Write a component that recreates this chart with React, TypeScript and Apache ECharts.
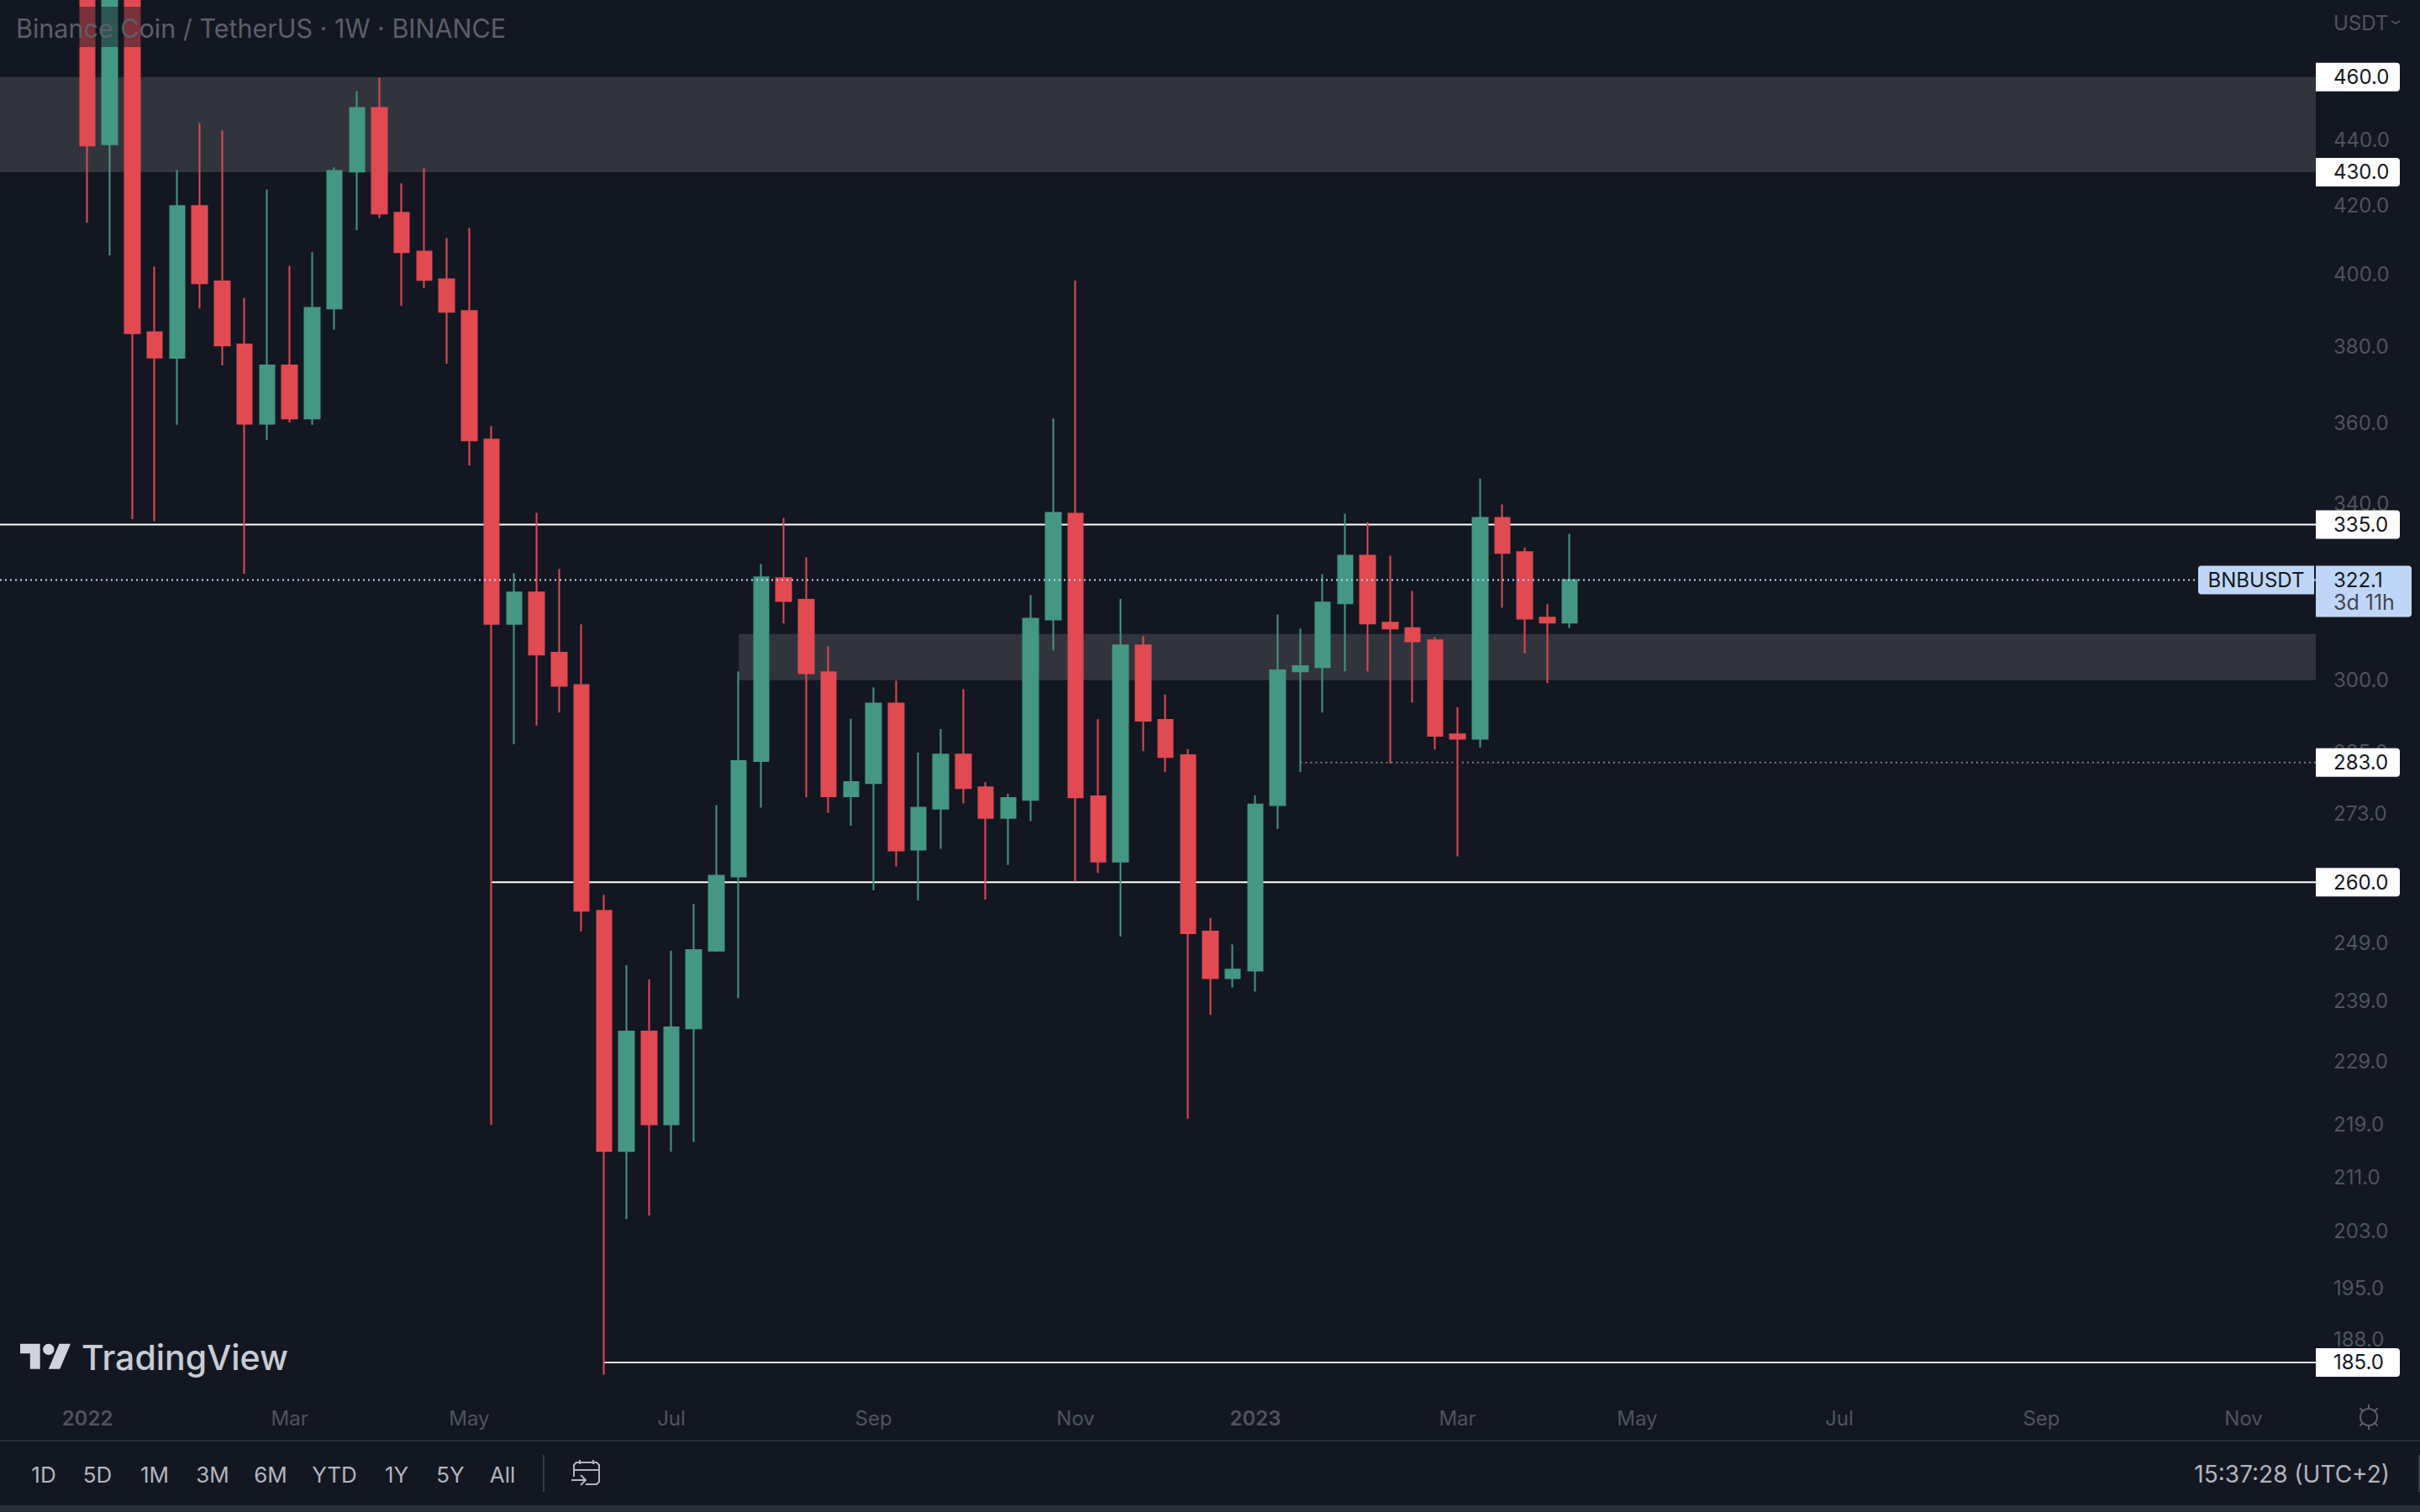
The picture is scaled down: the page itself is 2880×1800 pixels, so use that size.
import { useEffect, useRef } from 'react'
import * as echarts from 'echarts'

const DAY = 86400000
const WEEK = 7 * DAY
const firstWeek = Date.UTC(2022, 0, 3)

// weekly candles, 3 Jan 2022 .. 10 Apr 2023
const opens = [530, 438.6, 490, 383.9, 377.0, 419.8, 398.0, 380.6, 359.8, 375.0, 361.1, 390.4, 430.2, 450.0, 417.8, 406.5, 398.6, 389.7, 355.8, 312.2, 319.25, 305.9, 299.0, 254.8, 214.9, 233.9, 219.0, 234.4, 247.7, 261.05, 283.3, 322.5, 317.6, 301.7, 276.3, 278.9, 295.1, 266.05, 273.9, 284.6, 278.1, 272.1, 275.6, 313.2, 337.6, 276.3, 263.8, 307.5, 291.7, 284.5, 251.05, 242.9, 244.2, 274.6, 301.9, 302.8, 316.8, 327.7, 312.5, 311.3, 308.6, 288.7, 287.8, 336.6, 328.5, 313.6, 312.5]
const closes = [438.2, 490, 383.6, 377.05, 419.8, 397.45, 380.3, 359.8, 375.0, 361.1, 390.6, 430.4, 450.0, 417.6, 406.3, 398.4, 389.5, 355.6, 312.2, 319.25, 305.5, 298.8, 254.8, 214.9, 233.9, 219.0, 234.6, 247.8, 261.2, 283.3, 322.7, 317.3, 301.5, 276.3, 279.1, 295.1, 265.9, 274.1, 284.6, 277.9, 272.1, 276.0, 313.4, 337.8, 276.1, 263.8, 307.5, 291.5, 284.1, 250.75, 242.9, 244.4, 274.7, 302.1, 303.0, 317.0, 327.7, 312.3, 311.2, 308.4, 288.4, 287.8, 336.6, 328.3, 313.4, 312.5, 322.1]
const lows = [414.9, 405.4, 336.3, 335.8, 359.5, 390.4, 375.0, 323.5, 355.65, 360.1, 359.5, 384.6, 412.7, 416.2, 391.1, 396.1, 375.4, 349.3, 218.9, 286.7, 290.5, 293.2, 251.1, 183.4, 204.8, 205.3, 214.8, 216.3, 247.5, 239.5, 274.1, 312.3, 276.1, 273.1, 270.6, 258.5, 262.9, 256.65, 266.2, 274.9, 256.8, 263.2, 271.5, 306.4, 260.1, 261.7, 250.15, 285.3, 281.1, 219.9, 236.7, 241.3, 240.6, 270.0, 281.1, 293.2, 301.9, 301.9, 282.8, 295.3, 285.65, 264.8, 286.0, 315.8, 305.8, 299.4, 311.3]
const highs = [560, 510, 500, 402.2, 430.7, 445.2, 442.9, 393.4, 424.8, 402.4, 406.3, 431.5, 455.4, 459.8, 426.6, 431.2, 410.4, 413.4, 359.2, 323.6, 337.8, 324.65, 312.1, 257.7, 245.15, 242.7, 247.7, 256.05, 274.6, 301.9, 325.8, 336.6, 327.3, 307.3, 291.9, 298.5, 299.9, 285.0, 289.8, 298.1, 279.1, 276.8, 318.7, 361.1, 398.2, 291.8, 317.8, 309.5, 297.0, 285.7, 253.5, 248.8, 276.5, 314.3, 311.2, 323.4, 337.6, 335.6, 327.7, 319.6, 309.3, 294.3, 346.1, 339.8, 329.6, 316.6, 332.8]

const priceTicks = [440, 420, 400, 380, 360, 340, 300, 285, 273, 249, 239, 229, 219, 211, 203, 195, 188]
const tagLevels = [460, 430, 335, 283, 260, 185]
const lastPrice = 322.1

const timeTicks: [number, string][] = [
  [Date.UTC(2022, 0, 3), '2022'],
  [Date.UTC(2022, 2, 7), 'Mar'],
  [Date.UTC(2022, 4, 2), 'May'],
  [Date.UTC(2022, 6, 4), 'Jul'],
  [Date.UTC(2022, 8, 5), 'Sep'],
  [Date.UTC(2022, 10, 7), 'Nov'],
  [Date.UTC(2023, 0, 2), '2023'],
  [Date.UTC(2023, 2, 6), 'Mar'],
  [Date.UTC(2023, 4, 1), 'May'],
  [Date.UTC(2023, 6, 3), 'Jul'],
  [Date.UTC(2023, 8, 4), 'Sep'],
  [Date.UTC(2023, 10, 6), 'Nov'],
]

const rangeButtons: [string, number][] = [
  ['1D', 52], ['5D', 116], ['1M', 184], ['3M', 253], ['6M', 322],
  ['YTD', 398], ['1Y', 472], ['5Y', 536], ['All', 598],
]

const BG = '#131722'
const RED = '#E14A51'
const GREEN = '#449783'
const MUTED = '#50535C'
const SOFT = '#B2B5BE'
const FONT = 'Inter, "Noto Sans", sans-serif'

const PLOT_W = 2756
const PLOT_H = 1660
const WEEK_PX = 26.73
const FIRST_X = 104
const tMin = firstWeek - (FIRST_X / WEEK_PX) * WEEK
const tMax = firstWeek + ((PLOT_W - FIRST_X) / WEEK_PX) * WEEK

const weekAt = (i: number) => firstWeek + i * WEEK

function tagItem(params: any, api: any) {
  const price = api.value(1) as number
  const y = api.coord([tMin, price])[1]
  return {
    type: 'group',
    children: [
      { type: 'rect', shape: { x: PLOT_W, y: y - 17, width: 100, height: 34, r: [0, 4, 4, 0] }, style: { fill: '#FFFFFF' } },
      {
        type: 'text',
        x: 2777,
        y,
        style: { text: price.toFixed(1), fill: '#131722', font: `24px ${FONT}`, align: 'left', verticalAlign: 'middle' },
      },
    ],
  }
}

function lastPriceItem(params: any, api: any) {
  const price = api.value(1) as number
  const y = api.coord([tMin, price])[1]
  return {
    type: 'group',
    children: [
      { type: 'rect', shape: { x: 2616, y: y - 17, width: 138, height: 34, r: [4, 0, 0, 4] }, style: { fill: '#BFD7F7' } },
      { type: 'text', x: 2685, y, style: { text: 'BNBUSDT', fill: '#131722', font: `24px ${FONT}`, align: 'center', verticalAlign: 'middle' } },
      { type: 'rect', shape: { x: PLOT_W, y: y - 17, width: 114, height: 61, r: [0, 4, 4, 0] }, style: { fill: '#BFD7F7' } },
      { type: 'text', x: 2777, y, style: { text: price.toFixed(1), fill: '#131722', font: `24px ${FONT}`, align: 'left', verticalAlign: 'middle' } },
      { type: 'text', x: 2777, y: y + 27, style: { text: '3d 11h', fill: '#434651', font: `25px ${FONT}`, align: 'left', verticalAlign: 'middle' } },
    ],
  }
}

function levelLine(name: string, points: number[][], color: string, dotted = false, z = 1) {
  return {
    name,
    type: 'line',
    data: points,
    symbol: 'none',
    silent: true,
    z,
    lineStyle: { color, width: 2, type: dotted ? [2, 4] : 'solid' },
  }
}

function icon(points: number[][]) {
  return { type: 'polyline', shape: { points }, style: { stroke: SOFT, fill: 'none', lineWidth: 2 }, z: 20 }
}

export default function App() {
  const ref = useRef<HTMLDivElement>(null)

  useEffect(() => {
    if (!ref.current) return
    echarts.graphic.registerShape(
      'tvLogo',
      echarts.graphic.extendPath('M14 22H7V11H0V4h14v18ZM28 22h-8l7.5-18h8L28 22ZM24 8a4 4 0 1 1-8 0a4 4 0 1 1 8 0Z', {}),
    )
    const chart = echarts.init(ref.current, undefined, { renderer: 'svg' })

    const sunSpikes = [0, 45, 135, 180, 225, 315].map((deg) => {
      const a = (deg * Math.PI) / 180
      return {
        type: 'line',
        z: 20,
        shape: {
          x1: 2819 + Math.sin(a) * 10,
          y1: 1687 - Math.cos(a) * 10,
          x2: 2819 + Math.sin(a) * 15,
          y2: 1687 - Math.cos(a) * 15,
        },
        style: { stroke: '#5D606A', lineWidth: 2 },
      }
    })

    chart.setOption({
      animation: false,
      backgroundColor: BG,
      grid: { left: 0, top: 0, width: PLOT_W, height: PLOT_H, containLabel: false },
      xAxis: {
        // week starts in ms; value axis so the month labels can sit on exact weeks
        type: 'value',
        min: tMin,
        max: tMax,
        axisLine: { show: false },
        axisTick: { show: false },
        splitLine: { show: false },
        axisLabel: {
          customValues: timeTicks.map((t) => t[0]),
          margin: 16,
          color: MUTED,
          fontFamily: FONT,
          fontSize: 24,
          formatter: (v: number) => {
            const label = timeTicks.find((t) => t[0] === v)?.[1] ?? ''
            return /^\d/.test(label) ? `{y|${label}}` : label
          },
          rich: { y: { fontFamily: FONT, fontSize: 24, fontWeight: 600, color: MUTED } },
        },
      },
      yAxis: {
        type: 'log',
        logBase: 10,
        min: 180.86,
        max: 485.8,
        position: 'right',
        axisLine: { show: false },
        axisTick: { show: false },
        splitLine: { show: false },
        axisLabel: {
          customValues: priceTicks,
          margin: 21,
          align: 'left',
          color: MUTED,
          fontFamily: FONT,
          fontSize: 24,
          padding: [3, 0, 0, 0],
          formatter: (v: number) => v.toFixed(1),
        },
      },
      series: [
        {
          name: 'BNBUSDT',
          type: 'candlestick',
          z: 2,
          barWidth: 18,
          data: opens.map((o, i) => [weekAt(i), o, closes[i], lows[i], highs[i]]),
          itemStyle: { color: GREEN, color0: RED, borderColor: GREEN, borderColor0: RED, borderWidth: 2 },
          markArea: {
            silent: true,
            z: 0,
            itemStyle: { color: '#31343D' },
            data: [
              [{ xAxis: tMin, yAxis: 460 }, { xAxis: tMax, yAxis: 430 }],
              [{ xAxis: weekAt(29), yAxis: 310 }, { xAxis: tMax, yAxis: 300 }],
            ],
          },
        },
        levelLine('335', [[tMin, 335], [tMax, 335]], '#FFFFFF'),
        levelLine('260', [[weekAt(18), 260], [tMax, 260]], '#FFFFFF'),
        levelLine('185', [[weekAt(23), 185], [tMax, 185]], '#E0E0E0'),
        levelLine('283a', [[weekAt(54), 283], [weekAt(61) - 0.2 * WEEK, 283]], '#7D808A', true, 5),
        levelLine('283b', [[weekAt(61) + 0.2 * WEEK, 283], [tMax, 283]], '#7D808A', true, 5),
        levelLine('last', [[tMin, lastPrice], [tMax, lastPrice]], '#C4DAF8', true, 5),
        {
          name: 'tags',
          type: 'custom',
          z: 10,
          silent: true,
          data: tagLevels.map((v) => [tMin, v]),
          encode: { x: 0, y: 1 },
          renderItem: tagItem,
        },
        {
          name: 'lastTag',
          type: 'custom',
          z: 10,
          silent: true,
          data: [[tMin, lastPrice]],
          encode: { x: 0, y: 1 },
          renderItem: lastPriceItem,
        },
      ],
      graphic: [
        // legend veil over the candles
        { type: 'rect', z: 15, silent: true, shape: { x: 10, y: 8, width: 600, height: 48 }, style: { fill: 'rgba(19,23,34,0.5)' } },
        { type: 'text', z: 20, x: 19, y: 33, style: { text: 'Binance Coin / TetherUS · 1W · BINANCE', fill: '#5C5E68', font: `30.5px ${FONT}`, align: 'left', verticalAlign: 'middle' } },
        { type: 'text', z: 20, x: 2777, y: 27, style: { text: 'USDT', fill: MUTED, font: `24px ${FONT}`, align: 'left', verticalAlign: 'middle' } },
        { type: 'polyline', z: 20, shape: { points: [[2846, 25], [2851, 28], [2856, 25]] }, style: { stroke: MUTED, fill: 'none', lineWidth: 2 } },

        // TradingView mark
        { type: 'tvLogo', z: 20, x: 24, y: 1593, scaleX: 1.69, scaleY: 1.67, style: { fill: '#D1D4DC' } },
        { type: 'text', z: 20, x: 97, y: 1616, style: { text: 'TradingView', fill: '#C9CCD4', font: `500 41px ${FONT}`, align: 'left', verticalAlign: 'middle' } },

        // time axis settings sun
        { type: 'circle', z: 20, shape: { cx: 2819, cy: 1687, r: 10 }, style: { stroke: '#5D606A', fill: 'none', lineWidth: 2 } },
        ...sunSpikes,

        // bottom toolbar
        { type: 'rect', z: 20, shape: { x: 0, y: 1714, width: 2880, height: 2 }, style: { fill: '#2A2E39' } },
        { type: 'rect', z: 20, shape: { x: 0, y: 1792, width: 2880, height: 8 }, style: { fill: '#2A2E39' } },
        { type: 'rect', z: 20, shape: { x: 646, y: 1732, width: 2, height: 44 }, style: { fill: '#363A45' } },
        { type: 'rect', z: 20, shape: { x: 2878, y: 1732, width: 2, height: 44 }, style: { fill: '#363A45' } },
        ...rangeButtons.map(([label, x]) => ({
          type: 'text',
          z: 20,
          x,
          y: 1755,
          style: { text: label, fill: SOFT, font: `26px ${FONT}`, align: 'center', verticalAlign: 'middle' },
        })),
        icon([[683, 1758], [683, 1744], [686, 1741], [710, 1741], [713, 1744], [713, 1764], [710, 1767], [697, 1767]]),
        icon([[683, 1750], [713, 1750]]),
        icon([[690, 1738], [690, 1743]]),
        icon([[706, 1738], [706, 1743]]),
        icon([[680, 1762], [697, 1762]]),
        icon([[691, 1756], [697, 1762], [691, 1768]]),
        { type: 'text', z: 20, x: 2844, y: 1755, style: { text: '15:37:28 (UTC+2)', fill: SOFT, font: `28px ${FONT}`, align: 'right', verticalAlign: 'middle' } },
      ],
    })

    return () => chart.dispose()
  }, [])

  return <div ref={ref} style={{ position: 'fixed', left: 0, top: 0, width: 2880, height: 1800, background: BG }} />
}
